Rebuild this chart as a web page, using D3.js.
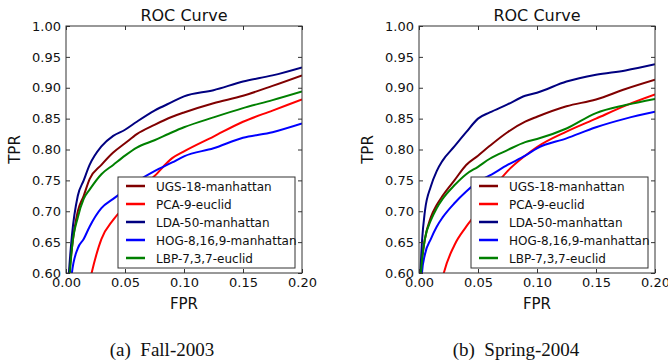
<!DOCTYPE html>
<html>
<head>
<meta charset="utf-8">
<script src="https://cdn.jsdelivr.net/npm/d3@7"></script>
<style>
  body { margin: 0; background: #fff; }
  svg { display: block; }
</style>
</head>
<body>
<svg id="chart" width="668" height="362"></svg>
<script>
// shared FPR sample points (values below 0.60 get clipped by the axes)
const fpr = [0, 0.0025, 0.005, 0.01, 0.015, 0.02, 0.03, 0.04, 0.05, 0.06, 0.075, 0.09, 0.1, 0.125, 0.15, 0.175, 0.2];

const methods = ['UGS-18-manhattan', 'PCA-9-euclid', 'LDA-50-manhattan', 'HOG-8,16,9-manhattan', 'LBP-7,3,7-euclid'];
const colors = ['#800000', '#ff0000', '#000080', '#0000ff', '#008000'];

// Fall-2003 TPR values
const fallUGS = [0.50, 0.59, 0.64, 0.70, 0.725, 0.752, 0.775, 0.795, 0.81, 0.825, 0.84, 0.853, 0.86, 0.875, 0.887, 0.903, 0.92];
const fallPCA = [0.40, 0.43, 0.46, 0.50, 0.54, 0.586, 0.655, 0.686, 0.708, 0.73, 0.757, 0.786, 0.797, 0.821, 0.845, 0.863, 0.881];
const fallLDA = [0.50, 0.60, 0.66, 0.725, 0.75, 0.775, 0.805, 0.822, 0.832, 0.845, 0.863, 0.877, 0.886, 0.896, 0.91, 0.92, 0.933];
const fallHOG = [0.45, 0.55, 0.60, 0.64, 0.655, 0.675, 0.705, 0.72, 0.734, 0.748, 0.765, 0.779, 0.789, 0.802, 0.819, 0.828, 0.842];
const fallLBP = [0.50, 0.58, 0.64, 0.69, 0.72, 0.735, 0.76, 0.775, 0.79, 0.803, 0.815, 0.828, 0.836, 0.852, 0.867, 0.88, 0.894];

// Spring-2004 TPR values
const springUGS = [0.55, 0.62, 0.655, 0.69, 0.71, 0.725, 0.75, 0.775, 0.79, 0.806, 0.828, 0.845, 0.853, 0.87, 0.881, 0.898, 0.913];
const springPCA = [0.40, 0.43, 0.46, 0.50, 0.54, 0.592, 0.645, 0.675, 0.70, 0.73, 0.765, 0.79, 0.804, 0.829, 0.85, 0.871, 0.889];
const springLDA = [0.55, 0.65, 0.70, 0.74, 0.765, 0.782, 0.805, 0.828, 0.85, 0.86, 0.873, 0.887, 0.892, 0.91, 0.921, 0.928, 0.938];
const springHOG = [0.50, 0.60, 0.63, 0.655, 0.675, 0.69, 0.713, 0.732, 0.748, 0.758, 0.775, 0.79, 0.802, 0.818, 0.836, 0.85, 0.861];
const springLBP = [0.55, 0.62, 0.655, 0.685, 0.705, 0.72, 0.742, 0.76, 0.772, 0.785, 0.799, 0.812, 0.817, 0.834, 0.859, 0.872, 0.882];

const xTicks = [0, 0.05, 0.1, 0.15, 0.2];
const yTicks = [0.6, 0.65, 0.7, 0.75, 0.8, 0.85, 0.9, 0.95, 1.0];

const panels = [
  { left: 66, right: 302, caption: '(a)\u00a0 Fall-2003', capX: 162, series: [fallUGS, fallPCA, fallLDA, fallHOG, fallLBP] },
  { left: 419, right: 655, caption: '(b)\u00a0 Spring-2004', capX: 516, series: [springUGS, springPCA, springLDA, springHOG, springLBP] }
];

const plotTop = 26, plotBottom = 273;
const svg = d3.select('#chart');
const sans = 'DejaVu Sans, sans-serif';

panels.forEach(function (p, pi) {
  const x = d3.scaleLinear().domain([0, 0.2]).range([p.left, p.right]);
  const y = d3.scaleLinear().domain([0.6, 1.0]).range([plotBottom, plotTop]);
  const g = svg.append('g');

  const clipId = 'clip' + pi;
  svg.append('clipPath').attr('id', clipId)
    .append('rect').attr('x', p.left).attr('y', plotTop)
    .attr('width', p.right - p.left).attr('height', plotBottom - plotTop);

  // curves
  const line = d3.line().x((d, i) => x(fpr[i])).y(d => y(d)).curve(d3.curveMonotoneX);
  g.append('g').attr('clip-path', 'url(#' + clipId + ')')
    .selectAll('path').data(p.series).enter().append('path')
    .attr('d', line)
    .attr('fill', 'none')
    .attr('stroke', (d, i) => colors[i])
    .attr('stroke-width', 2)
    .attr('stroke-linejoin', 'round');

  // axes, ticks pointing inward on all sides
  const tickStyle = sel => {
    sel.select('.domain').remove();
    sel.selectAll('line').attr('stroke', '#333');
    sel.selectAll('text').attr('fill', '#111').style('font-family', sans).style('font-size', '13px');
  };
  g.append('g').attr('transform', 'translate(0,' + plotBottom + ')')
    .call(d3.axisBottom(x).tickValues(xTicks).tickFormat(d3.format('.2f')).tickSizeInner(-4).tickPadding(5))
    .call(tickStyle);
  g.append('g').attr('transform', 'translate(0,' + plotTop + ')')
    .call(d3.axisTop(x).tickValues(xTicks).tickFormat('').tickSizeInner(-4))
    .call(tickStyle);
  g.append('g').attr('transform', 'translate(' + p.left + ',0)')
    .call(d3.axisLeft(y).tickValues(yTicks).tickFormat(d3.format('.2f')).tickSizeInner(-4).tickPadding(5))
    .call(tickStyle);
  g.append('g').attr('transform', 'translate(' + p.right + ',0)')
    .call(d3.axisRight(y).tickValues(yTicks).tickFormat('').tickSizeInner(-4))
    .call(tickStyle);

  g.append('rect')
    .attr('x', p.left).attr('y', plotTop)
    .attr('width', p.right - p.left).attr('height', plotBottom - plotTop)
    .attr('fill', 'none').attr('stroke', '#333').attr('stroke-width', 1);

  // labels
  const cx = (p.left + p.right) / 2;
  g.append('text').attr('x', cx).attr('y', 21).attr('text-anchor', 'middle')
    .style('font-family', sans).style('font-size', '16px').attr('fill', '#111').text('ROC Curve');
  g.append('text').attr('x', cx).attr('y', 309).attr('text-anchor', 'middle')
    .style('font-family', sans).style('font-size', '15px').attr('fill', '#111').text('FPR');
  g.append('text')
    .attr('transform', 'translate(' + (p.left - 46) + ',' + ((plotTop + plotBottom) / 2) + ') rotate(-90)')
    .attr('text-anchor', 'middle')
    .style('font-family', sans).style('font-size', '15px').attr('fill', '#111').text('TPR');
  g.append('text').attr('x', p.capX).attr('y', 356).attr('text-anchor', 'middle')
    .style('font-family', 'Liberation Serif, Times New Roman, serif').style('font-size', '19px')
    .attr('fill', '#111').text(p.caption);

  // legend
  const lx = p.left + 52, ly = 177;
  const leg = g.append('g');
  leg.append('rect').attr('x', lx).attr('y', ly)
    .attr('width', p.right - 7 - lx).attr('height', 91)
    .attr('fill', '#fff').attr('stroke', '#333').attr('stroke-width', 1);
  const rows = leg.selectAll('g.row').data(methods).enter().append('g')
    .attr('transform', (d, i) => 'translate(0,' + (ly + 9 + i * 18) + ')');
  rows.append('line').attr('x1', lx + 8).attr('x2', lx + 27)
    .attr('stroke', (d, i) => colors[i]).attr('stroke-width', 2.5);
  rows.append('text').attr('x', lx + 38).attr('y', 4.5)
    .style('font-family', sans).style('font-size', '12px').attr('fill', '#111')
    .text(d => d);
});
</script>
</body>
</html>
